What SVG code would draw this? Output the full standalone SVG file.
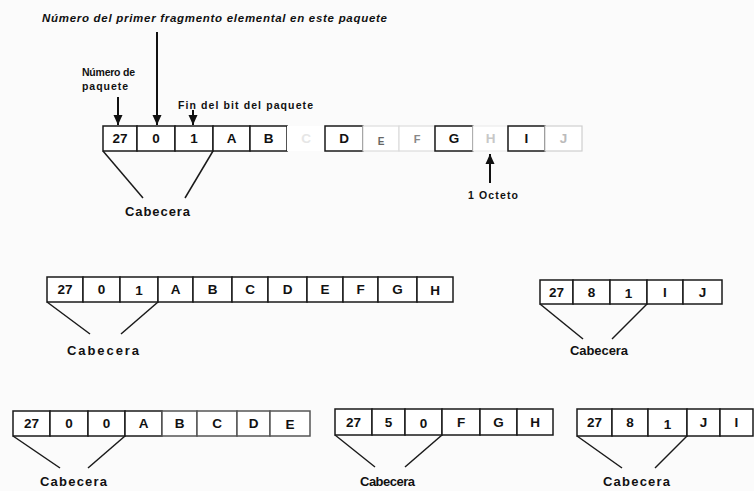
<svg xmlns="http://www.w3.org/2000/svg" width="754" height="491" viewBox="0 0 754 491">
<defs>
<marker id="ah" markerUnits="userSpaceOnUse" markerWidth="10" markerHeight="10" viewBox="0 0 10 10" refX="10" refY="5" orient="auto">
<path d="M0,0.5 L10,5 L0,9.5 Z" fill="#111"/>
</marker>
<style>
.c{fill:#fff;stroke:#1a1a1a;stroke-width:1.5}
.f{fill:#fff;stroke:#dcdcdc;stroke-width:1.2}
.n{fill:#fff;stroke:none}
.t{font-family:"Liberation Sans",Arial,sans-serif;font-weight:bold;font-size:13.5px;text-anchor:middle;fill:#111}
.l{font-family:"Liberation Sans",Arial,sans-serif;font-weight:bold;font-size:10.5px;fill:#111}
.cab{font-family:"Liberation Sans",Arial,sans-serif;font-weight:bold;font-size:13px;fill:#111}
.br{stroke:#1a1a1a;stroke-width:1.5;fill:none}
.ar{stroke:#111;stroke-width:2;fill:none}
</style>
</defs>
<rect width="754" height="491" fill="#fbfbfb"/>

<g id="titulo">
<text class="l" x="42" y="22" style="font-style:italic;font-size:11.5px" textLength="345" lengthAdjust="spacing">Número del primer fragmento elemental en este paquete</text>
</g>
<g id="num-paquete">
<text class="l" x="82" y="76" textLength="53" lengthAdjust="spacing">Número de</text>
<text class="l" x="82" y="90" textLength="46" lengthAdjust="spacing">paquete</text>
</g>
<g id="fin-bit">
<text class="l" x="178" y="109" textLength="135" lengthAdjust="spacing">Fin del bit del paquete</text>
</g>
<g id="octeto">
<text class="l" x="468" y="199" textLength="50" lengthAdjust="spacing">1 Octeto</text>
</g>

<g id="paquete-original">
<rect class="c" x="103" y="126" width="34" height="25"/>
<rect class="c" x="137" y="126" width="38" height="25"/>
<rect class="c" x="175" y="126" width="38" height="25"/>
<rect class="c" x="213" y="126" width="37" height="25"/>
<rect class="c" x="250" y="126" width="37" height="25"/>
<rect class="n" x="287" y="126" width="38" height="25"/>
<rect class="c" x="325" y="126" width="38" height="25"/>
<rect class="f" x="363" y="126" width="36" height="25"/>
<rect class="f" x="399" y="126" width="36" height="25"/>
<rect class="c" x="435" y="126" width="38" height="25"/>
<rect class="f" x="473" y="126" width="35" height="25" style="stroke:#ececec"/>
<rect class="c" x="508" y="126" width="37" height="25"/>
<rect class="f" x="545" y="126" width="37" height="25" style="stroke:#cfcfcf"/>
<text class="t" x="120" y="143">27</text>
<text class="t" x="156" y="143">0</text>
<text class="t" x="194" y="143">1</text>
<text class="t" x="231.5" y="143">A</text>
<text class="t" x="268.5" y="143">B</text>
<text class="t" x="306" y="143" style="fill:#e6e6e6">C</text>
<text class="t" x="344" y="143">D</text>
<text class="t" x="381" y="145" style="fill:#666;font-size:10px">E</text>
<text class="t" x="417" y="143" style="fill:#888;font-size:11px">F</text>
<text class="t" x="454" y="143">G</text>
<text class="t" x="490.5" y="143" style="fill:#c8c8c8">H</text>
<text class="t" x="526.5" y="143">I</text>
<text class="t" x="563.5" y="143" style="fill:#bbb">J</text>
</g>
<g id="cab-0">
<text class="cab" x="125" y="216" textLength="65" lengthAdjust="spacing">Cabecera</text>
</g>

<g id="paquete-a">
<rect class="c" x="47" y="277" width="36" height="25"/>
<rect class="c" x="83" y="277" width="37" height="25"/>
<rect class="c" x="120" y="277" width="38" height="25"/>
<rect class="c" x="158" y="277" width="35" height="25"/>
<rect class="c" x="193" y="277" width="39" height="25"/>
<rect class="c" x="232" y="277" width="36" height="25"/>
<rect class="c" x="268" y="277" width="39" height="25"/>
<rect class="c" x="307" y="277" width="36" height="25"/>
<rect class="c" x="343" y="277" width="35" height="25"/>
<rect class="c" x="378" y="277" width="39" height="25"/>
<rect class="c" x="417" y="277" width="36" height="25"/>
<text class="t" x="65" y="294">27</text>
<text class="t" x="101.5" y="294">0</text>
<text class="t" x="139" y="295">1</text>
<text class="t" x="175.5" y="294">A</text>
<text class="t" x="212.5" y="294">B</text>
<text class="t" x="250" y="294">C</text>
<text class="t" x="287.5" y="294">D</text>
<text class="t" x="325" y="294">E</text>
<text class="t" x="360.5" y="294">F</text>
<text class="t" x="397.5" y="294">G</text>
<text class="t" x="435" y="295">H</text>
</g>
<g id="cab-a">
<text class="cab" x="67" y="355" textLength="72" lengthAdjust="spacing">Cabecera</text>
</g>

<g id="paquete-b">
<rect class="c" x="540" y="280" width="33" height="24"/>
<rect class="c" x="573" y="280" width="37" height="24"/>
<rect class="c" x="610" y="280" width="37" height="24"/>
<rect class="c" x="647" y="280" width="36" height="24"/>
<rect class="c" x="683" y="280" width="39" height="24"/>
<text class="t" x="556.5" y="297">27</text>
<text class="t" x="591.5" y="297">8</text>
<text class="t" x="628.5" y="298">1</text>
<text class="t" x="665" y="297">I</text>
<text class="t" x="702.5" y="297">J</text>
</g>
<g id="cab-b">
<text class="cab" x="570" y="355" textLength="58" lengthAdjust="spacing">Cabecera</text>
</g>

<g id="paquete-c">
<rect class="c" x="13" y="411" width="37" height="25"/>
<rect class="c" x="50" y="411" width="38" height="25"/>
<rect class="c" x="88" y="411" width="37" height="25"/>
<rect class="c" x="125" y="411" width="37" height="25"/>
<rect class="c" x="162" y="411" width="35" height="25" style="stroke:#555"/>
<rect class="c" x="197" y="411" width="40" height="25" style="stroke:#555"/>
<rect class="c" x="237" y="411" width="33" height="25" style="stroke:#555"/>
<rect class="c" x="270" y="411" width="40" height="25" style="stroke:#555"/>
<text class="t" x="31.5" y="428">27</text>
<text class="t" x="69" y="428">0</text>
<text class="t" x="106.5" y="428">0</text>
<text class="t" x="143.5" y="428">A</text>
<text class="t" x="179.5" y="428">B</text>
<text class="t" x="217" y="428">C</text>
<text class="t" x="253.5" y="428">D</text>
<text class="t" x="290" y="429">E</text>
</g>
<g id="cab-c">
<text class="cab" x="40" y="486" textLength="67" lengthAdjust="spacing">Cabecera</text>
</g>

<g id="paquete-d">
<rect class="c" x="335" y="409" width="37" height="26"/>
<rect class="c" x="372" y="409" width="33" height="26"/>
<rect class="c" x="405" y="409" width="37" height="26"/>
<rect class="c" x="442" y="409" width="38" height="26"/>
<rect class="c" x="480" y="409" width="37" height="26"/>
<rect class="c" x="517" y="409" width="36" height="26"/>
<text class="t" x="353.5" y="427">27</text>
<text class="t" x="388.5" y="427">5</text>
<text class="t" x="423.5" y="428">0</text>
<text class="t" x="461" y="427">F</text>
<text class="t" x="498.5" y="427">G</text>
<text class="t" x="535" y="427">H</text>
</g>
<g id="cab-d">
<text class="cab" x="360" y="486" textLength="55" lengthAdjust="spacing">Cabecera</text>
</g>

<g id="paquete-e">
<rect class="c" x="577" y="409" width="35" height="27"/>
<rect class="c" x="612" y="409" width="36" height="27"/>
<rect class="c" x="648" y="409" width="39" height="27"/>
<rect class="c" x="687" y="409" width="33" height="27"/>
<rect class="c" x="720" y="409" width="33" height="27"/>
<text class="t" x="594.5" y="427">27</text>
<text class="t" x="630" y="427">8</text>
<text class="t" x="667.5" y="429">1</text>
<text class="t" x="703.5" y="427">J</text>
<text class="t" x="736.5" y="427">I</text>
</g>
<g id="cab-e">
<text class="cab" x="603" y="486" textLength="67" lengthAdjust="spacing">Cabecera</text>
</g>

<g id="conectores">
<line class="ar" x1="118" y1="97" x2="118" y2="125" marker-end="url(#ah)"/>
<line class="ar" x1="157" y1="32" x2="157" y2="125" marker-end="url(#ah)"/>
<line class="ar" x1="193" y1="110" x2="193" y2="125" marker-end="url(#ah)"/>
<line class="ar" x1="490" y1="183" x2="490" y2="154" marker-end="url(#ah)"/>
<polyline class="br" points="103,151 143,198"/>
<polyline class="br" points="213,151 185,198"/>
<polyline class="br" points="47,302 90,334"/>
<polyline class="br" points="158,302 121,334"/>
<polyline class="br" points="540,304 583,339"/>
<polyline class="br" points="647,304 612,339"/>
<polyline class="br" points="13,436 60,468"/>
<polyline class="br" points="125,436 88,468"/>
<polyline class="br" points="335,435 375,467"/>
<polyline class="br" points="442,435 405,467"/>
<polyline class="br" points="577,436 622,468"/>
<polyline class="br" points="687,436 655,468"/>
</g>
</svg>
